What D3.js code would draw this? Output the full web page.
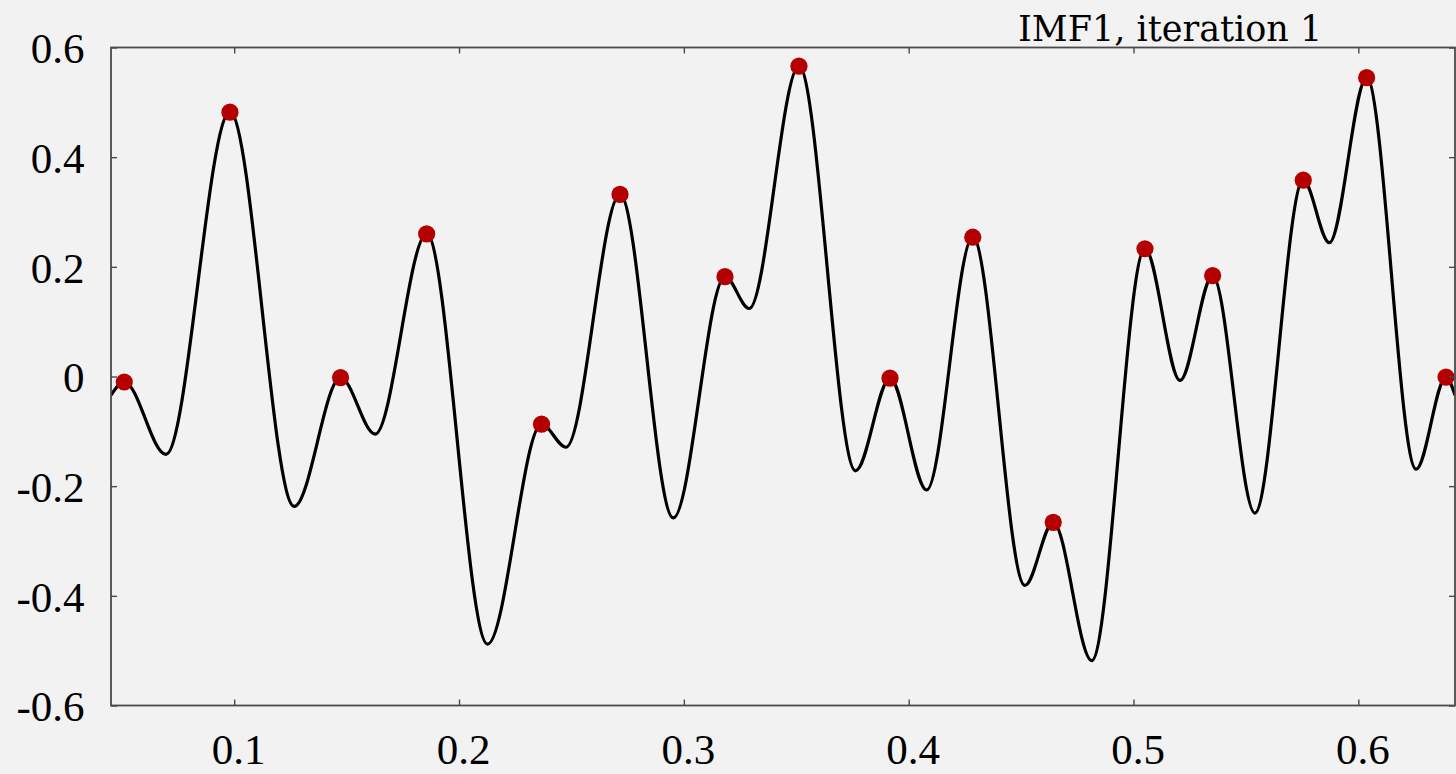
<!DOCTYPE html>
<html>
<head>
<meta charset="utf-8">
<script src="https://cdn.jsdelivr.net/npm/d3@7/dist/d3.min.js"></script>
<style>
  html, body { margin: 0; padding: 0; background: #f2f2f2; }
  svg { display: block; }
</style>
</head>
<body>
<script>
// ---- data ----
const curveX = [0.0452, 0.0511, 0.0696, 0.0981, 0.1267, 0.1473, 0.1627, 0.1856, 0.2127, 0.2367,
                0.2476, 0.2716, 0.2953, 0.3183, 0.3291, 0.3512, 0.3764, 0.3917, 0.4080, 0.4285,
                0.4517, 0.4643, 0.4814, 0.5051, 0.5207, 0.5352, 0.5540, 0.5755, 0.5871, 0.6037,
                0.6257, 0.6390, 0.6430];
const curveY = [-0.034, -0.010, -0.142, 0.482, -0.237, -0.002, -0.105, 0.260, -0.488, -0.087,
                -0.129, 0.332, -0.258, 0.182, 0.124, 0.566, -0.172, -0.003, -0.207, 0.254,
                -0.381, -0.266, -0.518, 0.233, -0.007, 0.184, -0.249, 0.358, 0.244, 0.545,
                -0.169, -0.001, -0.034];
const maximaX = [0.0511, 0.0981, 0.1473, 0.1856, 0.2367, 0.2716, 0.3183, 0.3512, 0.3917, 0.4285,
                 0.4643, 0.5051, 0.5352, 0.5755, 0.6037, 0.6390];
const maximaY = [-0.010, 0.482, -0.002, 0.260, -0.087, 0.332, 0.182, 0.566, -0.003, 0.254,
                 -0.266, 0.233, 0.184, 0.358, 0.545, -0.001];
const xTicks = [0.1, 0.2, 0.3, 0.4, 0.5, 0.6];
const yTicks = [-0.6, -0.4, -0.2, 0, 0.2, 0.4, 0.6];
const xDomain = [0.0452, 0.6430];
const yDomain = [-0.6, 0.6];
const title = "IMF1, iteration 1";

// ---- layout ----
const W = 1456, H = 774;
const L = 111, R = 1455, T = 47.5, B = 705.5;
const frameColor = "#4a4a4a";

const svg = d3.select("body").append("svg").attr("width", W).attr("height", H);
svg.append("rect").attr("width", W).attr("height", H).attr("fill", "#f2f2f2");

const x = d3.scaleLinear().domain(xDomain).range([L, R]);
const y = d3.scaleLinear().domain(yDomain).range([B, T]);

svg.append("defs").append("clipPath").attr("id", "plotclip")
  .append("rect").attr("x", L).attr("y", T).attr("width", R - L).attr("height", B - T);

const plot = svg.append("g").attr("clip-path", "url(#plotclip)");

const pts = curveX.map((v, i) => [v, curveY[i]]);
const line = d3.line().x(d => x(d[0])).y(d => y(d[1])).curve(d3.curveMonotoneX);
plot.append("path").attr("d", line(pts))
  .attr("fill", "none").attr("stroke", "#000").attr("stroke-width", 3.2)
  .attr("stroke-linejoin", "round");

plot.selectAll("circle").data(maximaX.map((v, i) => [v, maximaY[i]])).join("circle")
  .attr("cx", d => x(d[0])).attr("cy", d => y(d[1])).attr("r", 8.6)
  .attr("fill", "#b40000");

const fmt = d => String(+(+d).toFixed(1));
const serif = "'Liberation Serif', 'Times New Roman', serif";

function styleAxis(g) {
  g.select(".domain").remove();
  g.selectAll(".tick line").attr("stroke", frameColor).attr("stroke-width", 1.4);
}

// bottom axis (inward ticks)
const gB = svg.append("g").attr("transform", `translate(0,${B})`)
  .call(d3.axisBottom(x).tickValues(xTicks).tickSizeInner(-6).tickSizeOuter(0).tickFormat(fmt));
styleAxis(gB);
gB.selectAll(".tick text").attr("y", 58.5).attr("dy", null).attr("dx", 4)
  .attr("font-family", serif).attr("font-size", 43).attr("fill", "#000");

// top axis (mirror ticks)
const gT = svg.append("g").attr("transform", `translate(0,${T})`)
  .call(d3.axisTop(x).tickValues(xTicks).tickSizeInner(-6).tickSizeOuter(0).tickFormat(""));
styleAxis(gT);

// left axis
const gL = svg.append("g").attr("transform", `translate(${L},0)`)
  .call(d3.axisLeft(y).tickValues(yTicks).tickSizeInner(-6).tickSizeOuter(0).tickFormat(fmt));
styleAxis(gL);
gL.selectAll(".tick text").attr("x", -26.5).attr("dy", "0.36em")
  .attr("font-family", serif).attr("font-size", 43).attr("fill", "#000");

// right axis (mirror ticks)
const gR = svg.append("g").attr("transform", `translate(${R},0)`)
  .call(d3.axisRight(y).tickValues(yTicks).tickSizeInner(-6).tickSizeOuter(0).tickFormat(""));
styleAxis(gR);

// frame
svg.append("rect").attr("x", L).attr("y", T).attr("width", R - L).attr("height", B - T)
  .attr("fill", "none").attr("stroke", frameColor).attr("stroke-width", 1.8);

// title
svg.append("text").attr("x", 1018).attr("y", 41)
  .attr("font-family", "'DejaVu Serif', serif").attr("font-size", 35).attr("fill", "#000")
  .text(title);
</script>
</body>
</html>
